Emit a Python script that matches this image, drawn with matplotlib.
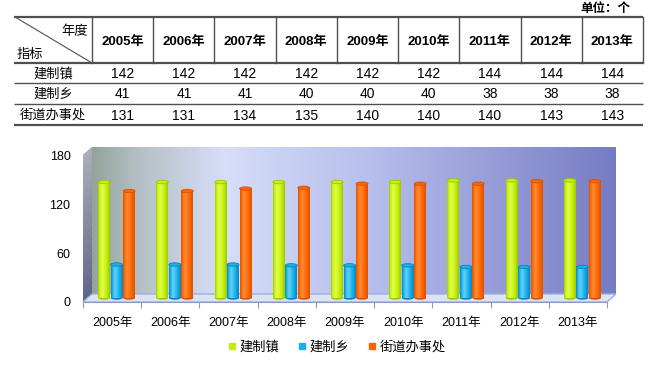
import numpy as np
import matplotlib.pyplot as plt
from matplotlib.patches import Polygon, Ellipse
from matplotlib.lines import Line2D

plt.rcParams['font.family'] = ['Liberation Sans', 'Noto Sans CJK SC']

# data
years = ['2005年', '2006年', '2007年', '2008年', '2009年',
         '2010年', '2011年', '2012年', '2013年']
zhen = [142, 142, 142, 142, 142, 142, 144, 144, 144]
xiang = [41, 41, 41, 40, 40, 40, 38, 38, 38]
jiedao = [131, 131, 134, 135, 140, 140, 140, 143, 143]
row_names = ['建制镇', '建制乡', '街道办事处']
yticks = [0, 60, 120, 180]

# (dark edge, highlight, mid) for the cylinders
bar_cols = [
    ((0.62, 0.78, 0.00), (0.88, 1.00, 0.30), (0.78, 0.94, 0.06)),
    ((0.02, 0.52, 0.76), (0.40, 0.82, 0.98), (0.10, 0.69, 0.91)),
    ((0.85, 0.32, 0.00), (1.00, 0.55, 0.22), (1.00, 0.40, 0.00)),
]
legend_cols = ['#BFEF10', '#1AAEE6', '#FF6200']

W, H = 654, 367
fig = plt.figure(figsize=(W / 100, H / 100), dpi=100)

# ---------------- table ----------------
tab = fig.add_axes([0, 0, 1, 1])
tab.set_xlim(0, W)
tab.set_ylim(H, 0)
tab.axis('off')

left, first_r, right = 14, 92, 643
col_w = (right - first_r) / len(years)
row_y = [17, 63, 83, 104, 125]
for i, y in enumerate(row_y):
    lw = 1.6 if i in (0, 1, 4) else 1.0
    tab.plot([left, right], [y, y], color='#505050', lw=lw, solid_capstyle='butt')
for k in range(len(years) + 1):
    xx = first_r + k * col_w
    tab.plot([xx, xx], [row_y[0], row_y[1]], color='#505050', lw=1.0)
tab.plot([left + 1, first_r], [row_y[0], row_y[1]], color='#505050', lw=0.8)

tab.text(88, 32, '年度', ha='right', va='center', fontsize=9.5)
tab.text(17, 55, '指标', ha='left', va='center', fontsize=9.5)
tab.text(630, 9, '单位：个', ha='right', va='center', fontsize=9, fontweight='bold')

for k, yr in enumerate(years):
    cx = first_r + (k + 0.5) * col_w
    tab.text(cx, 42, yr, ha='center', va='center', fontsize=9.5, fontweight='bold')
    for r, vals in enumerate([zhen, xiang, jiedao]):
        cy = (row_y[r + 1] + row_y[r + 2]) / 2 + 1
        tab.text(cx, cy, str(vals[k]), ha='center', va='center', fontsize=10)
for r, name in enumerate(row_names):
    cy = (row_y[r + 1] + row_y[r + 2]) / 2 + 1
    tab.text((left + first_r) / 2, cy, name, ha='center', va='center', fontsize=9.5)

# ---------------- chart ----------------
n = len(years)
x = np.arange(n)
ax_l, ax_b, ax_w, ax_h = 83, 302, 524, 147   # front plane in pixels
ax = fig.add_axes([ax_l / W, 1 - ax_b / H, ax_w / W, ax_h / H])
ax.set_xlim(-0.5, n - 0.5)
ax.set_ylim(0, 180)
ax.patch.set_visible(False)

ppx = ax_w / n
ppy = ax_h / 180
DX, DY = 9 / ppx, 8 / ppy   # depth of the fake 3d box


def hgrad(stops, m=256):
    pos = np.array([s[0] for s in stops])
    cols = np.array([s[1] for s in stops]) / 255.0
    t = np.linspace(0, 1, m)
    out = np.stack([np.interp(t, pos, cols[:, c]) for c in range(3)], axis=-1)
    return out[None, :, :]


# back wall
wall = hgrad([(0.0, (148, 164, 156)), (0.08, (178, 190, 194)), (0.25, (214, 222, 248)),
              (0.55, (180, 188, 236)), (1.0, (118, 124, 194))])
ax.imshow(wall, extent=(-0.5 + DX, n - 0.5 + DX, DY, 180 + DY), aspect='auto',
          interpolation='bilinear', zorder=0, clip_on=False)

# side wall, drawn as thin strips for a vertical gradient
nstrip = 60
for k in range(nstrip):
    t0, t1 = k / nstrip * 180, (k + 1) / nstrip * 180
    f = k / (nstrip - 1)
    col = ((88 + 80 * f) / 255, (94 + 76 * f) / 255, (130 + 52 * f) / 255)
    ax.add_patch(Polygon([(-0.5, t0), (-0.5 + DX, t0 + DY), (-0.5 + DX, t1 + DY + 0.3),
                          (-0.5, t1 + 0.3)], closed=True, facecolor=col,
                         edgecolor='none', clip_on=False, zorder=0.5))

# floor
floor = Polygon([(-0.5, 0), (n - 0.5, 0), (n - 0.5 + DX, DY), (-0.5 + DX, DY)],
                closed=True, facecolor='#DDE3F6', edgecolor='#9FB0DA', lw=1.0,
                clip_on=False, zorder=1)
ax.add_patch(floor)

# bars
bw = 0.205
offs = [-0.215, 0.0, 0.215]
cap_h = 3.4 / ppy
for s, (vals, (dark, hi, mid)) in enumerate(zip([zhen, xiang, jiedao], bar_cols)):
    bars = ax.bar(x + offs[s] + DX / 2, vals, width=bw, bottom=DY / 2,
                  color='none', edgecolor='none', zorder=2)
    grad = hgrad([(0.0, np.array(dark) * 255), (0.12, np.array(mid) * 255),
                  (0.35, np.array(hi) * 255), (0.7, np.array(mid) * 255),
                  (1.0, np.array(dark) * 255)])
    for b in bars:
        x0, y0, w, h = b.get_x(), b.get_y(), b.get_width(), b.get_height()
        ax.add_patch(Ellipse((x0 + w / 2, y0), w, cap_h, facecolor=dark,
                             edgecolor='none', zorder=2))
        ax.imshow(grad, extent=(x0, x0 + w, y0, y0 + h), aspect='auto',
                  interpolation='bilinear', zorder=2.1)
        ax.add_patch(Ellipse((x0 + w / 2, y0 + h), w, cap_h, facecolor=mid,
                             edgecolor=dark, lw=0.6, zorder=2.2))

ax.set_xlim(-0.5, n - 0.5)
ax.set_ylim(0, 180)

# axes decoration
for sp in ['top', 'right', 'left']:
    ax.spines[sp].set_visible(False)
ax.spines['bottom'].set_color('#8C9CC8')
ax.spines['bottom'].set_zorder(3)
ax.set_xticks(np.arange(n + 1) - 0.5)
ax.set_xticklabels([])
ax.set_xticks(x, minor=True)
ax.set_xticklabels(years, minor=True, fontsize=9)
ax.tick_params(axis='x', which='major', length=4, color='#8C9CC8', direction='out')
ax.tick_params(axis='x', which='minor', length=0, pad=10.5)
ax.set_yticks(yticks)
ax.set_yticklabels([str(v) for v in yticks], fontsize=9)
ax.tick_params(axis='y', length=0, pad=9)

handles = [Line2D([], [], marker='s', ls='', color=c, markersize=4.5) for c in legend_cols]
fig.legend(handles, row_names, loc='center', bbox_to_anchor=(337 / W, 1 - 347 / H),
           ncol=3, frameon=False, fontsize=9.5, handlelength=0.6, handletextpad=0.3,
           columnspacing=1.4)

fig.savefig('out.png', dpi=100)
